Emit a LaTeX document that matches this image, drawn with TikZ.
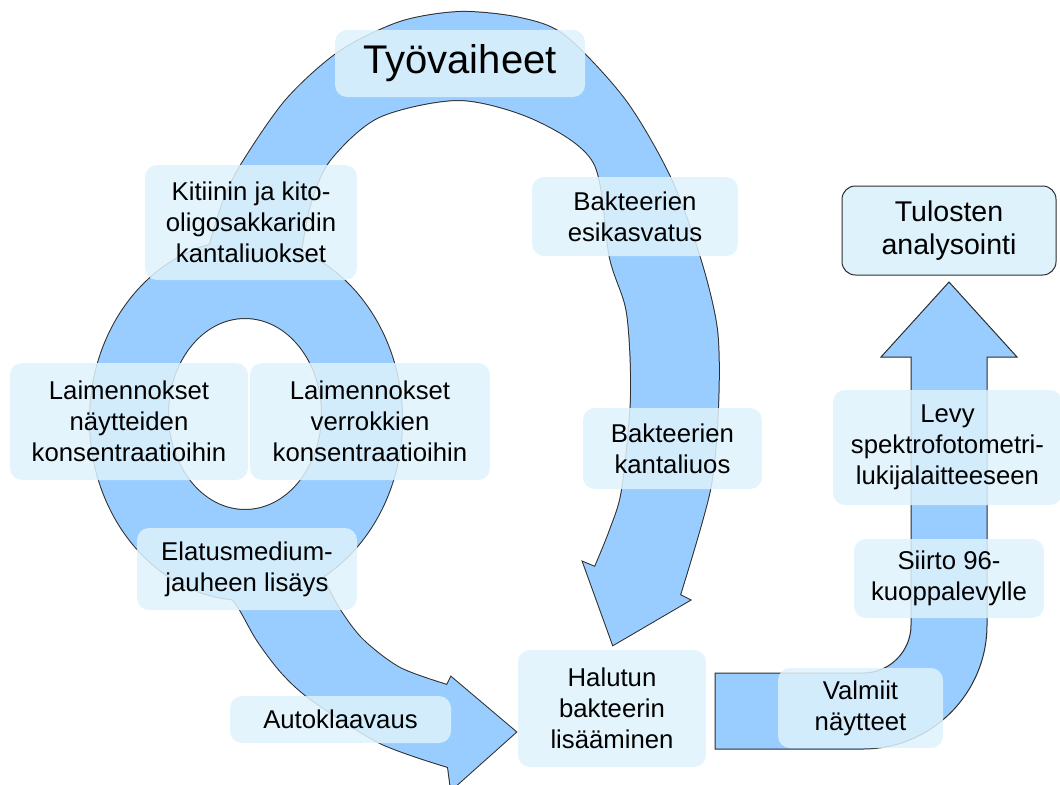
\documentclass[tikz,border=0pt]{standalone}
\usepackage{fontspec}
\setmainfont{Liberation Sans}
\definecolor{arrowblue}{RGB}{153,204,255}
\definecolor{labelfill}{RGB}{222,242,252}
\definecolor{edgegray}{RGB}{45,45,45}
\begin{document}
\begin{tikzpicture}[x=0.75pt,y=-0.75pt,
  arrowshape/.style={fill=arrowblue,draw=edgegray,line width=1.5pt,line join=miter},
  arrowfill/.style={fill=arrowblue},
  bentarrow/.style={fill=arrowblue,draw=edgegray,line width=0.75pt,line join=miter},
  lbl/.style={fill=labelfill,fill opacity=0.85,text opacity=1,rounded corners=9pt,inner sep=0pt,align=center,font=\fontsize{19.3}{23.2}\selectfont},
  result/.style={fill=labelfill,draw=edgegray,line width=0.75pt,rounded corners=10pt,inner sep=0pt,align=center,font=\fontsize{21.4}{25}\selectfont}]
\useasboundingbox (0,0) rectangle (1060,785);
% --- arrow shapes (outlined) ---
\path[arrowshape,even odd rule] (246,420) ellipse [x radius=156, y radius=180] (245,414) ellipse [x radius=77, y radius=96];
\path[arrowshape] plot[smooth] coordinates {(205,262) (222,205) (241,165) (286,100) (339,52) (400,22) (460,12) (520,18) (565,36) (625,100) (670,177) (700,258) (717,330) (718,407) (710,490) (680,595)} -- (690,600) -- (613,645) -- (583,562) -- plot[smooth] coordinates {(595,567) (610,530) (622,490) (631,397) (627,313) (610,258) (594,163) (536,120) (460,100) (379,117) (330,160) (310,205) (300,258)} -- cycle;
\path[arrowshape] plot[smooth] coordinates {(205,550) (215,578) (237,605) (257,640) (282,673) (312,700) (380,743) (448,767)} -- (451,790) -- (516,732) -- (451,677) -- plot[smooth] coordinates {(447,685) (400,668) (363,640) (340,610) (325,580) (322,550)} -- cycle;
% --- refill to merge overlapping shapes ---
\path[arrowfill,even odd rule] (246,420) ellipse [x radius=156, y radius=180] (245,414) ellipse [x radius=77, y radius=96];
\path[arrowfill] plot[smooth] coordinates {(205,262) (222,205) (241,165) (286,100) (339,52) (400,22) (460,12) (520,18) (565,36) (625,100) (670,177) (700,258) (717,330) (718,407) (710,490) (680,595)} -- (690,600) -- (613,645) -- (583,562) -- plot[smooth] coordinates {(595,567) (610,530) (622,490) (631,397) (627,313) (610,258) (594,163) (536,120) (460,100) (379,117) (330,160) (310,205) (300,258)} -- cycle;
\path[arrowfill] plot[smooth] coordinates {(205,550) (215,578) (237,605) (257,640) (282,673) (312,700) (380,743) (448,767)} -- (451,790) -- (516,732) -- (451,677) -- plot[smooth] coordinates {(447,685) (400,668) (363,640) (340,610) (325,580) (322,550)} -- cycle;
% --- bent up arrow ---
\path[bentarrow] (715,673) -- (863,673) arc[start angle=90, end angle=0, radius=48] -- (911,357) -- (881,357) -- (949,282) -- (1017,357) -- (987,357) -- (987,625) arc[start angle=0, end angle=90, radius=124] -- (715,749) -- cycle;
% --- labels ---
\node[lbl, minimum width=187.5pt, minimum height=50.25pt, font=\fontsize{30}{36}\selectfont] (title) at (460,63.5) {Työvaiheet};
\node[lbl, minimum width=159pt, minimum height=86.25pt] (kit) at (251,222.5) {Kitiinin ja kito-\\oligosakkaridin\\kantaliuokset};
\node[lbl, minimum width=154.5pt, minimum height=59.25pt] (esik) at (635,216.5) {Bakteerien\\esikasvatus};
\node[lbl, minimum width=178.5pt, minimum height=87.75pt] (laimn) at (129,421.5) {Laimennokset\\näytteiden\\konsentraatioihin};
\node[lbl, minimum width=180pt, minimum height=87.75pt] (laimv) at (370,421.5) {Laimennokset\\verrokkien\\konsentraatioihin};
\node[lbl, minimum width=134.25pt, minimum height=60.75pt] (kant) at (672.5,448.5) {Bakteerien\\kantaliuos};
\node[lbl, minimum width=165pt, minimum height=61.5pt] (elat) at (247,569) {Elatusmedium-\\jauheen lisäys};
\node[lbl, minimum width=165.75pt, minimum height=35.25pt] (auto) at (340.5,719.5) {Autoklaavaus};
\node[lbl, minimum width=141pt, minimum height=87.75pt] (halu) at (612,708.5) {Halutun\\bakteerin\\lisääminen};
\node[lbl, minimum width=123.75pt, minimum height=60pt] (valm) at (860.5,708) {Valmiit\\näytteet};
\node[lbl, minimum width=142.5pt, minimum height=59.25pt] (siirto) at (949,578.5) {Siirto 96-\\kuoppalevylle};
\node[lbl, minimum width=171.75pt, minimum height=86.25pt] (levy) at (947.5,447.5) {Levy\\spektrofotometri-\\lukijalaitteeseen};
\node[result, minimum width=160.5pt, minimum height=66.75pt] (tulos) at (949,230.5) {Tulosten\\analysointi};
\end{tikzpicture}
\end{document}
